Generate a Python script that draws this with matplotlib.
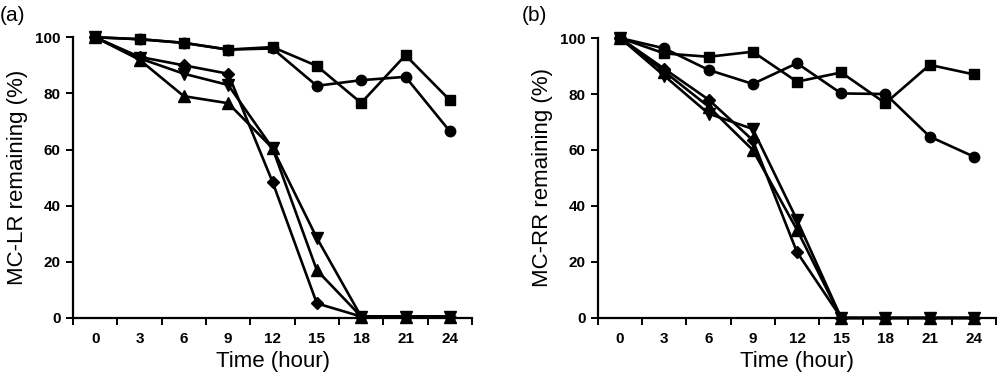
import matplotlib
matplotlib.use("Agg")
import matplotlib.pyplot as plt
import numpy as np

plt.rcParams['font.family'] = ['Liberation Sans', 'DejaVu Sans']

# time points (hours)
hours = [0, 3, 6, 9, 12, 15, 18, 21, 24]

# panel (a) MC-LR remaining (%)
lr_square = [100, 99.3, 98, 95.6, 96.5, 89.8, 76.6, 93.6, 77.6]
lr_circle = [100, 99.3, 98, 95.6, 96.0, 82.7, 84.7, 85.9, 66.5]
lr_tri_up = [100, 92, 79, 76.5, 60.5, 17, 0.5, 0.5, 0.5]
lr_tri_down = [100, 92.5, 87, 83, 60.5, 28.5, 0.5, 0.5, 0.5]
lr_diamond = [100, 93, 90, 87, 48.5, 5.2, 0.5, 0.5, 0.5]

# panel (b) MC-RR remaining (%)
rr_square = [100, 94.5, 93.3, 95.1, 84.4, 87.7, 76.7, 90.4, 87]
rr_circle = [100, 96.3, 88.6, 83.6, 91, 80.2, 80, 64.8, 57.6]
rr_tri_up = [100, 88, 75.5, 60, 31.5, 0, 0, 0, 0]
rr_tri_down = [100, 86.5, 73, 67.5, 35, 0, 0, 0, 0]
rr_diamond = [100, 89, 78, 63.5, 23.5, 0, 0, 0, 0]

yticks = [0, 20, 40, 60, 80, 100]

fig = plt.figure(figsize=(10, 3.84), dpi=100)
ax_a = fig.add_axes([0.073, 0.172, 0.399, 0.731])
ax_b = fig.add_axes([0.598, 0.172, 0.398, 0.729])

panels = [
    (ax_a, [lr_square, lr_circle, lr_tri_up, lr_tri_down, lr_diamond], 'MC-LR remaining (%)'),
    (ax_b, [rr_square, rr_circle, rr_tri_up, rr_tri_down, rr_diamond], 'MC-RR remaining (%)'),
]
markers = [('s', 7), ('o', 7.5), ('^', 8), ('v', 8), ('D', 6.5)]

for ax, series, ylabel in panels:
    for vals, (m, ms) in zip(series, markers):
        ax.plot(hours, vals, color='black', lw=1.9, marker=m, ms=ms,
                clip_on=False, zorder=3)
    ax.set_xlim(-1.5, 25.5)
    ax.set_ylim(0, 100)
    ax.spines['top'].set_visible(False)
    ax.spines['right'].set_visible(False)
    ax.spines['left'].set_linewidth(1.6)
    ax.spines['bottom'].set_linewidth(1.6)
    # category style axis: ticks between points, labels at points
    ax.set_xticks(np.arange(-1.5, 25.6, 3))
    ax.set_xticklabels([])
    ax.set_xticks(hours, minor=True)
    ax.set_xticklabels([str(h) for h in hours], minor=True,
                       fontsize=11, fontweight='bold')
    ax.tick_params(axis='x', which='major', direction='out', length=5, width=1.4)
    ax.tick_params(axis='x', which='minor', length=0, pad=10)
    ax.set_yticks(yticks)
    ax.set_yticklabels([str(v) for v in yticks], fontsize=11, fontweight='bold')
    ax.tick_params(axis='y', direction='out', length=5, width=1.4, pad=4)
    ax.set_xlabel('Time (hour)', fontsize=16, labelpad=4)
    ax.set_ylabel(ylabel, fontsize=16, labelpad=5)

fig.text(0.0, 0.96, '(a)', fontsize=15, va='center', ha='left')
fig.text(0.522, 0.96, '(b)', fontsize=15, va='center', ha='left')

fig.savefig('out.png', dpi=100)
